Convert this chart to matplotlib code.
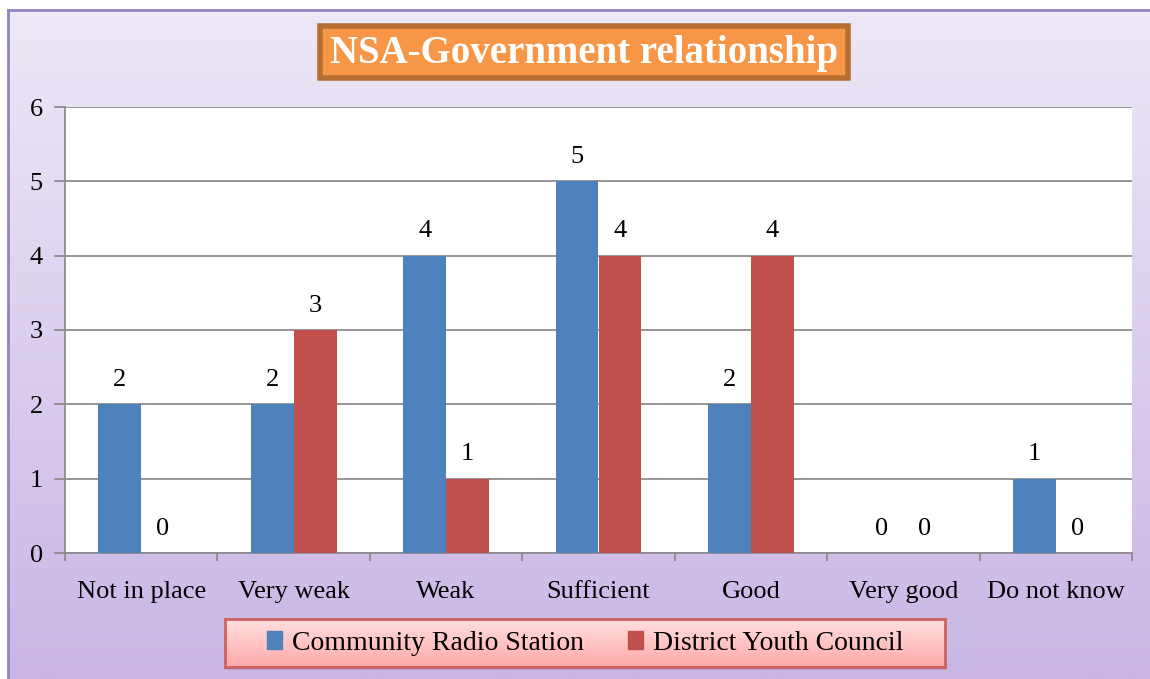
import numpy as np
import matplotlib
matplotlib.use("Agg")
import matplotlib.pyplot as plt
from matplotlib.patches import FancyBboxPatch, Rectangle
from matplotlib.lines import Line2D

categories = ["Not in place", "Very weak", "Weak", "Sufficient", "Good", "Very good", "Do not know"]
series_names = ["Community Radio Station", "District Youth Council"]
radio = [2, 2, 4, 5, 2, 0, 1]
youth = [0, 3, 1, 4, 4, 0, 0]
colors = ["#4F81BD", "#C0504D"]
title = "NSA-Government relationship"

FONT = ["Liberation Serif", "DejaVu Serif"]
plt.rcParams["font.family"] = FONT

W, H = 1150, 679
fig = plt.figure(figsize=(W / 100, H / 100), dpi=100)

# background gradient
bg = fig.add_axes([0, 0, 1, 1], zorder=0)
grad = np.linspace(0, 1, 256).reshape(-1, 1)
top_c = np.array([0xEE, 0xE9, 0xF7]) / 255
bot_c = np.array([0xC9, 0xB6, 0xE5]) / 255
img = top_c[None, None, :] * (1 - grad[:, :, None]) + bot_c[None, None, :] * grad[:, :, None]
bg.imshow(img, aspect="auto", extent=[0, 1, 0, 1], origin="upper")
bg.set_xlim(0, 1)
bg.set_ylim(0, 1)
bg.axis("off")
bg.add_line(Line2D([8 / W, 8 / W], [0, 1 - 10 / H], color="#9384C6", lw=2))
bg.add_line(Line2D([8 / W, 1], [1 - 10 / H, 1 - 10 / H], color="#9384C6", lw=2))
bg.add_patch(Rectangle((0, 0), 7 / W, 1, color="white", lw=0))
bg.add_patch(Rectangle((0, 1 - 9 / H), 1, 9 / H, color="white", lw=0))

ax = fig.add_axes([65 / W, 1 - 553 / H, (1132 - 65) / W, (553 - 107) / H], zorder=1)
ax.set_facecolor("white")
x = np.arange(len(categories))
bw = 0.282
b1 = ax.bar(x - bw / 2, radio, bw, color=colors[0], label=series_names[0], zorder=3)
b2 = ax.bar(x + bw / 2, youth, bw, color=colors[1], label=series_names[1], zorder=3)
for bars, vals in ((b1, radio), (b2, youth)):
    for rect, v in zip(bars, vals):
        ax.text(rect.get_x() + rect.get_width() / 2, v + 0.18, str(v),
                ha="center", va="bottom", fontsize=19, color="black")

ax.set_xlim(-0.5, len(categories) - 0.5)
ax.set_ylim(0, 6)
ax.set_yticks(range(7))
ax.yaxis.grid(True, color="#8C8C8C", lw=1.3, zorder=0)
ax.set_axisbelow(True)
for s in ("top", "right"):
    ax.spines[s].set_visible(False)
ax.spines["left"].set_color("#8C8C8C")
ax.spines["left"].set_linewidth(1.3)
ax.spines["bottom"].set_color("#8C8C8C")
ax.spines["bottom"].set_linewidth(1.3)
ax.tick_params(axis="y", length=8, width=1.3, color="#8C8C8C", labelsize=19, pad=8)
ax.set_xticks(x)
ax.set_xticklabels(categories, fontsize=19)
ax.tick_params(axis="x", length=0, pad=20)
ax.set_xticks(np.arange(len(categories) + 1) - 0.5, minor=True)
ax.tick_params(axis="x", which="minor", length=6, width=1.3, color="#8C8C8C")

# title box
tb = FancyBboxPatch((320 / W, 1 - 78 / H), (848 - 320) / W, (78 - 26) / H,
                    boxstyle="square,pad=0", transform=fig.transFigure,
                    facecolor="#F79646", edgecolor="#B66D31", lw=4, zorder=5)
fig.add_artist(tb)
fig.text(584 / W, 1 - 53 / H, title, ha="center", va="center", fontsize=28,
         fontweight="bold", color="white", zorder=6)

# legend box with shadow
lx0, ly0, lx1, ly1 = 225, 619, 945, 667
sh = Rectangle(((lx0 + 2) / W, 1 - (ly1 + 3) / H), (lx1 - lx0) / W, (ly1 - ly0) / H,
               transform=fig.transFigure, facecolor="#B3A3D3", edgecolor="none", zorder=4)
fig.add_artist(sh)
lg_ax = fig.add_axes([lx0 / W, 1 - ly1 / H, (lx1 - lx0) / W, (ly1 - ly0) / H], zorder=5)
lgrad = np.linspace(0, 1, 128).reshape(-1, 1)
c_top = np.array([0xFF, 0xDF, 0xDF]) / 255
c_bot = np.array([0xFF, 0xA9, 0xA9]) / 255
limg = c_top[None, None, :] * (1 - lgrad[:, :, None]) + c_bot[None, None, :] * lgrad[:, :, None]
lg_ax.imshow(limg, aspect="auto", extent=[0, 1, 0, 1], origin="upper")
lg_ax.set_xlim(0, 1)
lg_ax.set_ylim(0, 1)
lg_ax.set_xticks([])
lg_ax.set_yticks([])
for s in lg_ax.spines.values():
    s.set_color("#D0615F")
    s.set_linewidth(2)
handles = [Rectangle((0, 0), 1, 1, color=c) for c in colors]
leg = lg_ax.legend(handles, series_names, loc="center", ncol=2, frameon=False,
                   fontsize=20, handlelength=0.55, handleheight=0.6, handletextpad=0.35,
                   columnspacing=1.6)

fig.savefig("out.png", dpi=100)
